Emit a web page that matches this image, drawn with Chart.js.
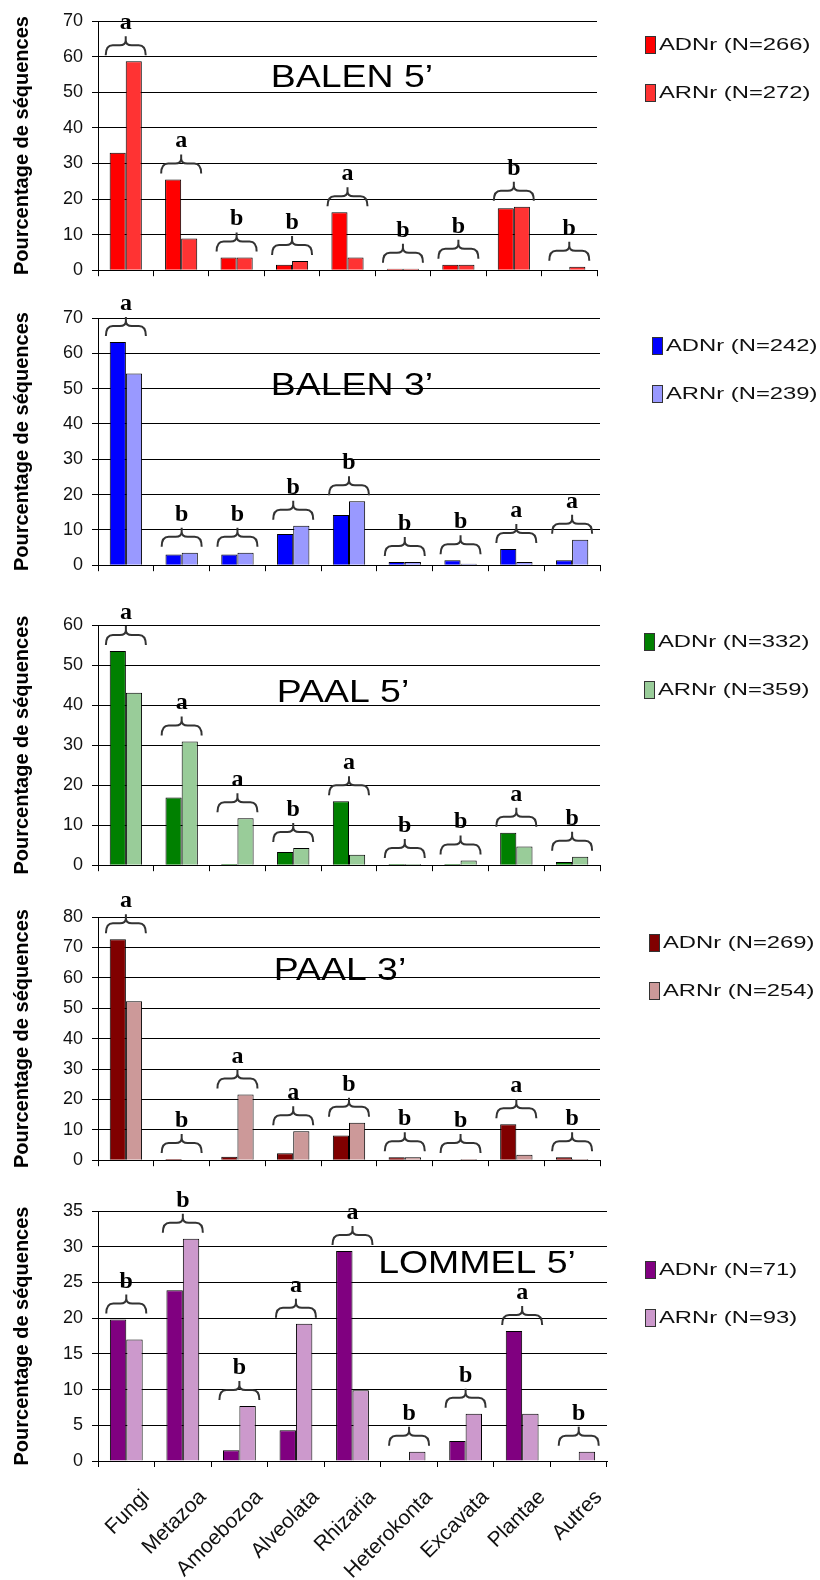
<!DOCTYPE html>
<html>
<head>
<meta charset="utf-8">
<script src="https://cdn.jsdelivr.net/npm/chart.js@4.4.0/dist/chart.umd.min.js"></script>
<style>
  body { margin: 0; background: #fff; width: 820px; height: 1580px; position: relative; overflow: hidden; }
  canvas { position: absolute; left: 0; }
</style>
</head>
<body>
<canvas id="c1"></canvas>
<canvas id="c2"></canvas>
<canvas id="c3"></canvas>
<canvas id="c4"></canvas>
<canvas id="c5"></canvas>
<script>
// Categories shared by the five panels
const categories = ["Fungi", "Metazoa", "Amoebozoa", "Alveolata", "Rhizaria", "Heterokonta", "Excavata", "Plantae", "Autres"];

// BALEN 5'
const balen5Adn = [33.0, 25.5, 3.6, 1.5, 16.3, 0.4, 1.5, 17.4, 0];
const balen5Arn = [58.7, 8.9, 3.6, 2.6, 3.6, 0.4, 1.5, 17.8, 1.0];
const balen5Letters = ["a", "a", "b", "b", "a", "b", "b", "b", "b"];

// BALEN 3'
const balen3Adn = [63.2, 3.0, 3.0, 8.8, 14.2, 0.9, 1.4, 4.6, 1.4];
const balen3Arn = [54.3, 3.5, 3.5, 11.2, 18.1, 0.9, 0.4, 0.9, 7.2];
const balen3Letters = ["a", "b", "b", "b", "b", "b", "b", "a", "a"];

// PAAL 5'
const paal5Adn = [53.5, 16.9, 0.3, 3.3, 16.0, 0.3, 0.3, 8.1, 0.8];
const paal5Arn = [43.1, 30.9, 11.7, 4.3, 2.6, 0.3, 1.2, 4.7, 2.1];
const paal5Letters = ["a", "a", "a", "b", "a", "b", "b", "a", "b"];

// PAAL 3'
const paal3Adn = [72.7, 0.4, 1.1, 2.3, 8.1, 1.0, 0, 11.8, 1.0];
const paal3Arn = [52.3, 0, 21.6, 9.5, 12.3, 1.0, 0.4, 1.8, 0.4];
const paal3Letters = ["a", "b", "a", "a", "b", "b", "b", "a", "b"];

// LOMMEL 5'
const lommelAdn = [19.8, 23.9, 1.5, 4.3, 29.4, 0, 2.8, 18.2, 0];
const lommelArn = [17.0, 31.1, 7.7, 19.2, 9.9, 1.3, 6.6, 6.6, 1.3];
const lommelLetters = ["b", "b", "b", "a", "a", "b", "b", "a", "b"];

Chart.defaults.font.family = "'Liberation Sans', Arial, sans-serif";
Chart.defaults.color = '#000';

// Braces with significance letters above each pair of bars
const bracePlugin = {
  id: 'braces',
  afterDatasetsDraw(chart, args, opts) {
    const ctx = chart.ctx;
    const xs = chart.scales.x, ys = chart.scales.y;
    const a = chart.data.datasets[0].data, b = chart.data.datasets[1].data;
    ctx.save();
    ctx.strokeStyle = '#333';
    ctx.lineWidth = 2;
    ctx.fillStyle = '#000';
    ctx.font = "bold 24px 'Liberation Serif', 'Times New Roman', serif";
    ctx.textAlign = 'center';
    ctx.textBaseline = 'alphabetic';
    opts.letters.forEach((letter, i) => {
      const cx = xs.getPixelForValue(i);
      const top = ys.getPixelForValue(Math.max(a[i], b[i]));
      const bottom = top - 6;
      const mid = bottom - 10;
      const peak = bottom - 19;
      const h = 20;
      ctx.beginPath();
      ctx.moveTo(cx - h, bottom);
      ctx.quadraticCurveTo(cx - h, mid, cx - h + 7, mid);
      ctx.lineTo(cx - 6, mid);
      ctx.quadraticCurveTo(cx, mid, cx, mid - 5);
      ctx.lineTo(cx, peak);
      ctx.moveTo(cx + h, bottom);
      ctx.quadraticCurveTo(cx + h, mid, cx + h - 7, mid);
      ctx.lineTo(cx + 6, mid);
      ctx.quadraticCurveTo(cx, mid, cx, mid - 5);
      ctx.stroke();
      ctx.fillText(letter, cx, peak - 7);
    });
    ctx.restore();
  }
};

// Site name written inside the plot area
const titlePlugin = {
  id: 'panelTitle',
  afterDatasetsDraw(chart, args, opts) {
    const ctx = chart.ctx;
    ctx.save();
    ctx.font = "32px 'Liberation Sans', Arial, sans-serif";
    ctx.fillStyle = '#000';
    ctx.textAlign = 'center';
    ctx.translate(opts.x, chart.chartArea.top + opts.dy);
    ctx.scale(1.17, 1);
    ctx.fillText(opts.text, 0, 0);
    ctx.restore();
  }
};

// Legend on the right side, one item per dataset
const legendPlugin = {
  id: 'sideLegend',
  afterDraw(chart, args, opts) {
    const ctx = chart.ctx;
    ctx.save();
    ctx.font = "17px 'Liberation Sans', Arial, sans-serif";
    ctx.textBaseline = 'middle';
    chart.data.datasets.forEach((ds, i) => {
      const y = chart.chartArea.top + opts.dy + i * 48;
      ctx.fillStyle = ds.backgroundColor;
      ctx.fillRect(opts.x, y - 8, 10, 17);
      ctx.strokeStyle = '#333';
      ctx.lineWidth = 1;
      ctx.strokeRect(opts.x + 0.5, y - 7.5, 10, 17);
      ctx.fillStyle = '#111';
      ctx.save();
      ctx.translate(opts.x + 14, y + 1);
      ctx.scale(1.4, 1);
      ctx.fillText(ds.label, 0, 0);
      ctx.restore();
    });
    ctx.restore();
  }
};

const panels = [
  { id: 'c1', top: 0, height: 290, padTop: 21, padRight: 223, xHeight: 18, max: 70, step: 10,
    title: "BALEN 5’", titleX: 352, titleDy: 66, legendX: 645, legendDy: 23,
    adn: balen5Adn, arn: balen5Arn, letters: balen5Letters,
    adnLabel: "ADNr (N=266)", arnLabel: "ARNr (N=272)", adnColor: '#ff0000', arnColor: '#ff3333' },
  { id: 'c2', top: 290, height: 295, padTop: 28, padRight: 220, xHeight: 17, max: 70, step: 10,
    title: "BALEN 3’", titleX: 352, titleDy: 77, legendX: 652, legendDy: 27,
    adn: balen3Adn, arn: balen3Arn, letters: balen3Letters,
    adnLabel: "ADNr (N=242)", arnLabel: "ARNr (N=239)", adnColor: '#0000ff', arnColor: '#9999ff' },
  { id: 'c3', top: 585, height: 300, padTop: 40, padRight: 220, xHeight: 10, max: 60, step: 10,
    title: "PAAL 5’", titleX: 343, titleDy: 77, legendX: 644, legendDy: 16,
    adn: paal5Adn, arn: paal5Arn, letters: paal5Letters,
    adnLabel: "ADNr (N=332)", arnLabel: "ARNr (N=359)", adnColor: '#008000', arnColor: '#99cc99' },
  { id: 'c4', top: 885, height: 295, padTop: 32, padRight: 220, xHeight: 13, max: 80, step: 10,
    title: "PAAL 3’", titleX: 340, titleDy: 63, legendX: 649, legendDy: 25,
    adn: paal3Adn, arn: paal3Arn, letters: paal3Letters,
    adnLabel: "ADNr (N=269)", arnLabel: "ARNr (N=254)", adnColor: '#800000', arnColor: '#cc9999' },
  { id: 'c5', top: 1180, height: 400, padTop: 31, padRight: 213, xHeight: 119, max: 35, step: 5,
    title: "LOMMEL 5’", titleX: 477, titleDy: 62, legendX: 645, legendDy: 58, showLabels: true,
    adn: lommelAdn, arn: lommelArn, letters: lommelLetters,
    adnLabel: "ADNr (N=71)", arnLabel: "ARNr (N=93)", adnColor: '#800080', arnColor: '#cc99cc' }
];

panels.forEach(p => {
  const canvas = document.getElementById(p.id);
  canvas.width = 820;
  canvas.height = p.height;
  canvas.style.top = p.top + 'px';
  canvas.style.width = '820px';
  canvas.style.height = p.height + 'px';

  new Chart(canvas, {
    type: 'bar',
    data: {
      labels: categories,
      datasets: [
        { label: p.adnLabel, data: p.adn, backgroundColor: p.adnColor },
        { label: p.arnLabel, data: p.arn, backgroundColor: p.arnColor }
      ]
    },
    options: {
      responsive: false,
      animation: false,
      devicePixelRatio: 1,
      layout: { padding: { top: p.padTop, right: p.padRight, left: 0, bottom: 0 } },
      datasets: {
        bar: { categoryPercentage: 0.58, barPercentage: 1, borderWidth: 1, borderColor: '#000' }
      },
      plugins: {
        legend: { display: false },
        tooltip: { enabled: false },
        braces: { letters: p.letters },
        panelTitle: { text: p.title, x: p.titleX, dy: p.titleDy },
        sideLegend: { x: p.legendX, dy: p.legendDy }
      },
      scales: {
        x: {
          afterFit: scale => { scale.height = p.xHeight; },
          grid: { offset: true, drawOnChartArea: false, drawTicks: true, tickLength: 6, color: '#000' },
          border: { display: true, color: '#000', width: 1 },
          ticks: {
            display: !!p.showLabels,
            autoSkip: false,
            minRotation: 45,
            maxRotation: 45,
            padding: 18,
            labelOffset: 20,
            font: { size: 21 },
            color: '#111'
          }
        },
        y: {
          min: 0,
          max: p.max,
          afterFit: scale => { scale.width = 98; },
          grid: { color: '#000', lineWidth: 1, drawTicks: true, tickLength: 6 },
          border: { display: true, color: '#000', width: 1 },
          ticks: { stepSize: p.step, padding: 9, font: { size: 18 }, color: '#111' },
          title: {
            display: true,
            text: 'Pourcentage de séquences',
            font: { size: 20, weight: 'bold' },
            color: '#000',
            padding: { top: 10, bottom: 0 }
          }
        }
      }
    },
    plugins: [bracePlugin, titlePlugin, legendPlugin]
  });
});
</script>
</body>
</html>
